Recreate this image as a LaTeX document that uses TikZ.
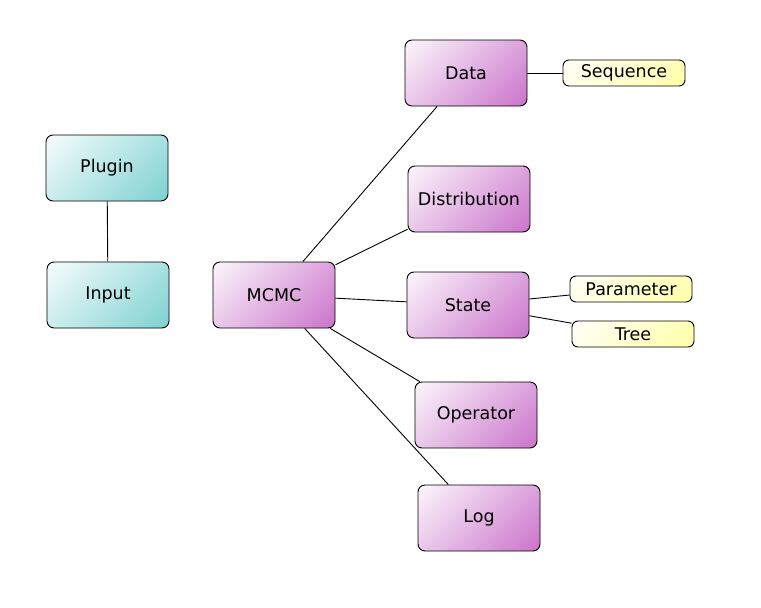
\documentclass[tikz,border=0pt]{standalone}
\usepackage{fontspec}
\setmainfont{DejaVu Sans}
\definecolor{tealc}{RGB}{100,200,200}
\definecolor{magc}{RGB}{192,88,192}
\definecolor{yelc}{RGB}{255,255,150}
\pgfdeclarehorizontalshading{tealshade}{100bp}{color(0bp)=(white); color(10bp)=(white); color(100bp)=(tealc)}
\pgfdeclarehorizontalshading{magshade}{100bp}{color(0bp)=(white); color(10bp)=(white); color(100bp)=(magc)}
\pgfdeclarehorizontalshading{yelshade}{100bp}{color(0bp)=(white); color(10bp)=(white); color(100bp)=(yelc)}
\begin{document}
\begin{tikzpicture}[x=1pt,y=-1pt,
  box/.style={draw=black,line width=0.9pt,rounded corners=7pt,minimum width=122pt,minimum height=66pt,inner sep=0pt,font=\fontsize{17.5}{21}\selectfont},
  tealbox/.style={box,shade,shading=tealshade,shading angle=-45},
  magbox/.style={box,shade,shading=magshade,shading angle=-45},
  leaf/.style={draw=black,line width=0.9pt,rounded corners=6pt,minimum width=122pt,minimum height=26pt,inner sep=0pt,shade,shading=yelshade,shading angle=-45,font=\fontsize{17.5}{21}\selectfont},
  link/.style={line width=0.9pt}]
\useasboundingbox (0,0) rectangle (761,608);
\node[tealbox] (plugin) at (107,168) {Plugin};
\node[tealbox] (input) at (108,295) {Input};
\node[magbox] (mcmc) at (274,295) {MCMC};
\node[magbox] (data) at (466,73) {Data};
\node[magbox] (dist) at (469,199) {Distribution};
\node[magbox] (state) at (468,305) {State};
\node[magbox] (oper) at (476,415) {Operator};
\node[magbox] (log) at (479,518) {Log};
\node[leaf] (seq) at (624,73) {Sequence};
\node[leaf] (param) at (631,289) {Parameter};
\node[leaf] (tree) at (633,334) {Tree};
\draw[link] (plugin) -- (input);
\draw[link] (mcmc) -- (data);
\draw[link] (mcmc) -- (dist);
\draw[link] (mcmc) -- (state);
\draw[link] (mcmc) -- (oper);
\draw[link] (mcmc) -- (log);
\draw[link] (data) -- (seq);
\draw[link] (state) -- (param);
\draw[link] (state) -- (tree);
\end{tikzpicture}
\end{document}
